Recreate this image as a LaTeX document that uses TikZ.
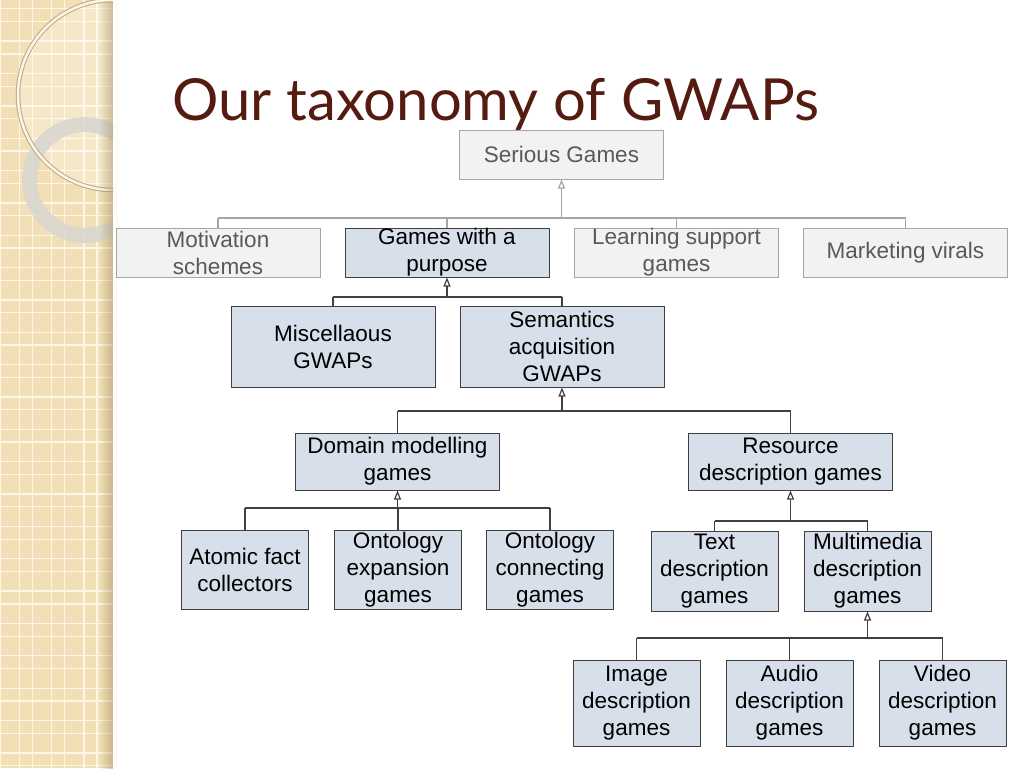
\documentclass[tikz,border=0pt]{standalone}
\usepackage{fontspec}
\setmainfont{Liberation Sans}
\newfontfamily\titlefont{Lato}
\usetikzlibrary{arrows.meta,fadings}
\definecolor{stripbg}{HTML}{F2DFB6}
\definecolor{stripline}{HTML}{FCF6E6}
\definecolor{stripdark}{HTML}{9C8458}
\definecolor{ringgrey}{HTML}{D9D7D0}
\definecolor{titlered}{HTML}{561B10}
\definecolor{greyfill}{HTML}{F2F2F2}
\definecolor{greyline}{HTML}{A6A6A6}
\definecolor{greytext}{HTML}{595959}
\definecolor{bluefill}{HTML}{D6DFEA}
\definecolor{darkline}{HTML}{404040}
\tikzset{
  box/.style={draw, line width=1pt, align=center, inner sep=0pt,
    font=\fontsize{22.5}{27}\selectfont},
  greybox/.style={box, draw=greyline, fill=greyfill, text=greytext},
  bluebox/.style={box, draw=darkline, fill=bluefill, text=black},
  wide/.style={minimum width=204pt},
  narrow/.style={minimum width=127pt},
  gen/.style={-{Triangle[open,length=9pt,width=7pt]}},
  gridline/.style={stripline, line width=1.3pt}
}
\begin{document}
\begin{tikzpicture}[x=1pt,y=-1pt]
  \useasboundingbox (0,0) rectangle (1024,768);
  \fill[stripbg] (0,0) rectangle (113,768);
  \foreach \k in {0,...,3} {
    \draw[gridline] ({32.35*\k},0) -- ({32.35*\k},768);
    \draw[gridline] ({19.3+32.35*\k},0) -- ({19.3+32.35*\k},768);
  }
  \foreach \k in {0,...,23} {
    \draw[gridline] (0,{8.8+32.35*\k}) -- (113,{8.8+32.35*\k});
    \draw[gridline] (0,{21.55+32.35*\k}) -- (113,{21.55+32.35*\k});
  }
  \begin{scope}
    \clip (0,0) rectangle (113,768);
    \fill[white, opacity=0.25] (113,95) circle[radius=93];
    \draw[ringgrey, opacity=0.9, line width=15pt] (85,180) circle[radius=55.5];
    \draw[stripdark!70, line width=4.5pt] (113,95) circle[radius=95];
    \draw[stripline, line width=2.5pt] (113,95) circle[radius=95];
    \fill[stripdark, opacity=0.45, path fading=west] (99,0) rectangle (113,768);
  \end{scope}
  \node[font=\titlefont\fontsize{58}{70}\selectfont, text=titlered,
    anchor=base west, inner sep=0pt] (title) at (172,120) {Our taxonomy of GWAPs};
  \draw
    (561.5,154.5) node[greybox, wide, minimum height=49pt] (serious){Serious Games}
    (218,252.5) node[greybox, wide, minimum height=49pt] (motiv){Motivation\\schemes}
    (447,252.5) node[bluebox, wide, minimum height=49pt] (gwap){Games with a\\purpose}
    (676.5,252.5) node[greybox, wide, minimum height=49pt] (learn){Learning support\\games}
    (905.5,252.5) node[greybox, wide, minimum height=49pt] (market){Marketing virals}
    (333,346.5) node[bluebox, wide, minimum height=81pt] (misc){Miscellaous\\GWAPs}
    (562,346.5) node[bluebox, wide, minimum height=81pt] (sem){Semantics\\acquisition\\GWAPs}
    (397.5,461.5) node[bluebox, wide, minimum height=57pt] (domain){Domain modelling\\games}
    (790.5,461.5) node[bluebox, wide, minimum height=57pt] (resource){Resource\\description games}
    (245,569.5) node[bluebox, narrow, minimum height=79pt] (atomic){Atomic fact\\collectors}
    (398,569.5) node[bluebox, narrow, minimum height=79pt] (ontexp){Ontology\\expansion\\games}
    (550,569.5) node[bluebox, narrow, minimum height=79pt] (ontcon){Ontology\\connecting\\games}
    (714.5,571) node[bluebox, narrow, minimum height=80pt] (text){Text\\description\\games}
    (867.5,571) node[bluebox, narrow, minimum height=80pt] (multi){Multimedia\\description\\games}
    (636.5,703) node[bluebox, narrow, minimum height=86pt] (image){Image\\description\\games}
    (789.5,703) node[bluebox, narrow, minimum height=86pt] (audio){Audio\\description\\games}
    (942.5,703) node[bluebox, narrow, minimum height=86pt] (video){Video\\description\\games};
  \begin{scope}[greyline, line width=1.2pt]
    \coordinate (b1) at (561.5,218);
    \draw[gen] (b1) to (serious);
    \draw (motiv.north |- b1) to (market.north |- b1);
    \foreach \c in {motiv,gwap,learn,market}
      \draw (\c) to (\c.north |- b1);
  \end{scope}
  \begin{scope}[darkline, line width=1.2pt]
    \coordinate (b2) at (447,297);
    \coordinate (b3) at (562,411);
    \coordinate (b4) at (397.5,508);
    \coordinate (b5) at (790.5,521);
    \coordinate (b6) at (867.5,638);
    \draw[gen] (b2) to (gwap);
    \draw[gen] (b3) to (sem);
    \draw[gen] (b4) to (domain);
    \draw[gen] (b5) to (resource);
    \draw[gen] (b6) to (multi);
    \draw (misc.north |- b2) to (sem.north |- b2);
    \draw (domain.north |- b3) to (resource.north |- b3);
    \draw (atomic.north |- b4) to (ontcon.north |- b4);
    \draw (text.north |- b5) to (multi.north |- b5);
    \draw (image.north |- b6) to (video.north |- b6);
    \foreach \c in {misc,sem}
      \draw (\c) to (\c.north |- b2);
    \foreach \c in {domain,resource}
      \draw (\c) to (\c.north |- b3);
    \foreach \c in {atomic,ontexp,ontcon}
      \draw (\c) to (\c.north |- b4);
    \foreach \c in {text,multi}
      \draw (\c) to (\c.north |- b5);
    \foreach \c in {image,audio,video}
      \draw (\c) to (\c.north |- b6);
  \end{scope}
\end{tikzpicture}
\end{document}
